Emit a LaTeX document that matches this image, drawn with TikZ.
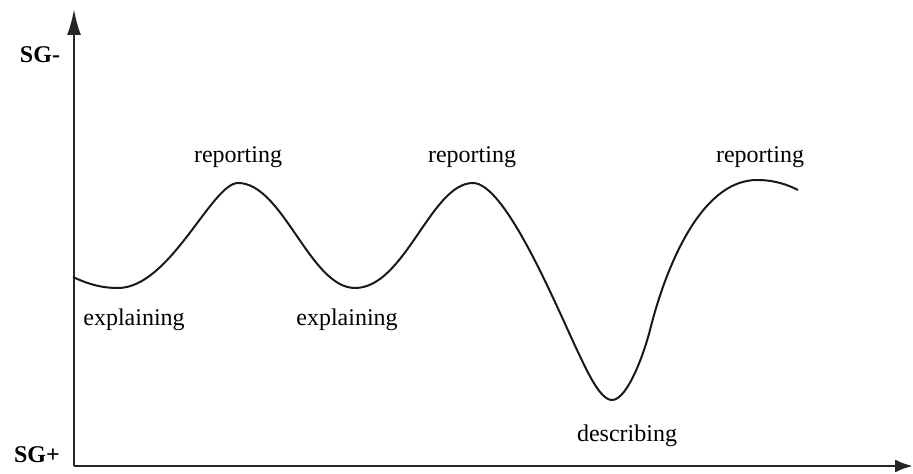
\documentclass[tikz,border=0pt]{standalone}
\usepackage{fontspec}
\setmainfont{Liberation Serif}
\usetikzlibrary{arrows.meta}

\tikzset{
  phase/.style={font=\fontsize{12}{14}\selectfont, anchor=base, inner sep=0pt},
  axislabel/.style={font=\fontsize{12}{14}\selectfont\bfseries, anchor=base, inner sep=0pt}
}

\begin{document}
\begin{tikzpicture}[x=0.5pt,y=-0.5pt]
		\useasboundingbox (0,0) rectangle (913,474);

		% Draw axes
		\coordinate (origin) at (74,466);
		\coordinate (ytop) at (74,9);
		\coordinate (xend) at (913,466);
		\draw[line width=1.3pt, black!85, -{Latex[length=13pt,width=7pt]}] (origin) -- (ytop);
		\draw[line width=1.3pt, black!85, -{Latex[length=9pt,width=6.5pt]}] (origin) -- (xend);

		% Axis labels
		\node[axislabel] (sgminus) at (40,63) {SG-};
		\node[axislabel] (sgplus) at (37,462) {SG+};

		% Draw the wave
		\draw[line width=1pt, black!90]
		  (73,277) .. controls (90,285) and (103,288) .. (118,288)
		  .. controls (170,288) and (212,183) .. (238,183)
		  .. controls (283,183) and (310,288) .. (355,288)
		  .. controls (405,288) and (431,183) .. (473,183)
		  .. controls (505,183) and (555,303) .. (577,350)
		  .. controls (587,371) and (600,400) .. (612,400)
		  .. controls (628,400) and (645,350) .. (650,330)
		  .. controls (665,270) and (700,180) .. (757,180)
		  .. controls (775,180) and (788,185) .. (798,190);

		% Add labels
		\node[phase] (rep1) at (238,163) {reporting};
		\node[phase] (rep2) at (472,163) {reporting};
		\node[phase] (rep3) at (760,163) {reporting};
		\node[phase] (expl1) at (134,326) {explaining};
		\node[phase] (expl2) at (347,326) {explaining};
		\node[phase] (desc) at (627,442) {describing};
	\end{tikzpicture}
\end{document}
